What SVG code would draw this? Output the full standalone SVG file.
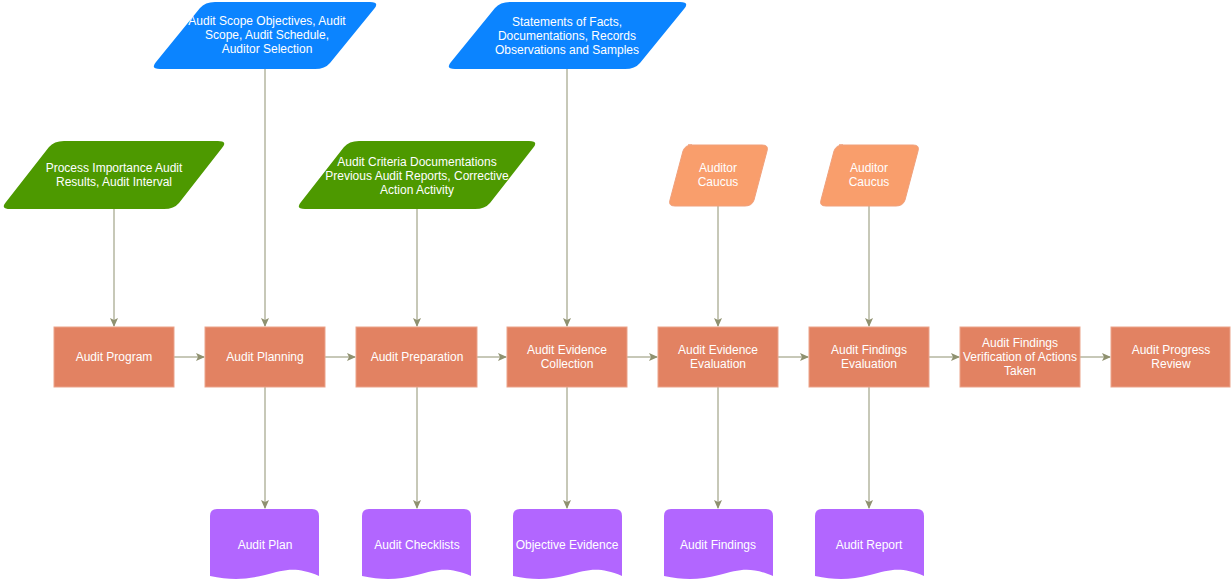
<svg xmlns="http://www.w3.org/2000/svg" width="1231" height="581" viewBox="0 0 1231 581">
<defs>
<marker id="ar" markerWidth="10" markerHeight="10" refX="8" refY="4" orient="auto" markerUnits="userSpaceOnUse"><path d="M0,0 L9,4 L0,8 L2,4 Z" fill="#8F9170"/></marker>
<style>
.p{fill:#E28262;stroke:#EBA38A;stroke-width:1}
.b{fill:#0B84FF}
.g{fill:#4D9900}
.o{fill:#F99E6C;stroke:#F0A07B}
.d{fill:#B266FF}
text{font-family:"Liberation Sans",Arial,sans-serif;font-size:12px;fill:#fff;text-anchor:middle}
.c line{stroke:#8F9170;stroke-width:1;marker-end:url(#ar)}
</style>
</defs>
<g class="c">
<line x1="174" y1="357" x2="204" y2="357"/>
<line x1="325" y1="357" x2="355" y2="357"/>
<line x1="477" y1="357" x2="506" y2="357"/>
<line x1="627" y1="357" x2="657" y2="357"/>
<line x1="778" y1="357" x2="808" y2="357"/>
<line x1="929" y1="357" x2="959" y2="357"/>
<line x1="1080" y1="357" x2="1110" y2="357"/>
<line x1="114" y1="209" x2="114" y2="326"/>
<line x1="265" y1="69" x2="265" y2="326"/>
<line x1="417" y1="209" x2="417" y2="326"/>
<line x1="567" y1="69" x2="567" y2="326"/>
<line x1="718" y1="206" x2="718" y2="326"/>
<line x1="869" y1="206" x2="869" y2="326"/>
<line x1="265" y1="387" x2="265" y2="508"/>
<line x1="417" y1="387" x2="417" y2="508"/>
<line x1="567" y1="387" x2="567" y2="508"/>
<line x1="718" y1="387" x2="718" y2="508"/>
<line x1="869" y1="387" x2="869" y2="508"/>
</g>
<g id="in1"><path class="b" d="M205,2 H370 Q380,2 374,9 L330,63 Q325,69 315,69 H160 Q150,69 156,62 L200,8 Q205,2 215,2 Z"/><text x="267" y="25">Audit Scope Objectives, Audit</text><text x="267" y="39">Scope, Audit Schedule,</text><text x="267" y="53">Auditor Selection</text></g>
<g id="in2"><path class="b" d="M500,2 H680 Q690,2 684,9 L640,63 Q635,69 625,69 H455 Q445,69 451,62 L495,8 Q500,2 510,2 Z"/><text x="567" y="26">Statements of Facts,</text><text x="567" y="40">Documentations, Records</text><text x="567" y="54">Observations and Samples</text></g>
<g id="in3"><path class="g" d="M55,141 H218 Q228,141 222,148 L179,203 Q174,209 164,209 H10 Q0,209 6,202 L49,147 Q54,141 64,141 Z"/><text x="114" y="172">Process Importance Audit</text><text x="114" y="186">Results, Audit Interval</text></g>
<g id="in4"><path class="g" d="M350,141 H529 Q539,141 533,148 L490,203 Q485,209 475,209 H305 Q295,209 301,202 L344,147 Q349,141 359,141 Z"/><text x="417" y="166">Audit Criteria Documentations</text><text x="417" y="180">Previous Audit Reports, Corrective</text><text x="417" y="194">Action Activity</text></g>
<g id="in5"><path class="o" d="M688,145 H762 Q769,145 767,151 L754,200 Q752,206 745,206 H675 Q668,206 670,200 L683,151 Q685,145 692,145 Z"/><text x="718" y="172">Auditor</text><text x="718" y="186">Caucus</text></g>
<g id="in6"><path class="o" d="M839,145 H913 Q920,145 918,151 L905,200 Q903,206 896,206 H826 Q819,206 821,200 L834,151 Q836,145 843,145 Z"/><text x="869" y="172">Auditor</text><text x="869" y="186">Caucus</text></g>
<g id="s1"><rect class="p" x="54" y="327" width="120" height="60"/><text x="114" y="361">Audit Program</text></g>
<g id="s2"><rect class="p" x="205" y="327" width="120" height="60"/><text x="265" y="361">Audit Planning</text></g>
<g id="s3"><rect class="p" x="356" y="327" width="121" height="60"/><text x="417" y="361">Audit Preparation</text></g>
<g id="s4"><rect class="p" x="507" y="327" width="120" height="60"/><text x="567" y="354">Audit Evidence</text><text x="567" y="368">Collection</text></g>
<g id="s5"><rect class="p" x="658" y="327" width="120" height="60"/><text x="718" y="354">Audit Evidence</text><text x="718" y="368">Evaluation</text></g>
<g id="s6"><rect class="p" x="809" y="327" width="120" height="60"/><text x="869" y="354">Audit Findings</text><text x="869" y="368">Evaluation</text></g>
<g id="s7"><rect class="p" x="960" y="327" width="120" height="60"/><text x="1020" y="347">Audit Findings</text><text x="1020" y="361">Verification of Actions</text><text x="1020" y="375">Taken</text></g>
<g id="s8"><rect class="p" x="1111" y="327" width="119" height="60"/><text x="1171" y="354">Audit Progress</text><text x="1171" y="368">Review</text></g>
<g id="o1"><path class="d" d="M210,516 Q210,509 217,509 H312 Q319,509 319,516 V576 C295,566 285,570 265,575 C245,580 230,580 210,576 Z"/><text x="265" y="549">Audit Plan</text></g>
<g id="o2"><path class="d" d="M362,516 Q362,509 369,509 H464 Q471,509 471,516 V576 C447,566 437,570 417,575 C397,580 382,580 362,576 Z"/><text x="417" y="549">Audit Checklists</text></g>
<g id="o3"><path class="d" d="M513,516 Q513,509 520,509 H615 Q622,509 622,516 V576 C598,566 588,570 568,575 C548,580 533,580 513,576 Z"/><text x="567" y="549">Objective Evidence</text></g>
<g id="o4"><path class="d" d="M664,516 Q664,509 671,509 H766 Q773,509 773,516 V576 C749,566 739,570 719,575 C699,580 684,580 664,576 Z"/><text x="718" y="549">Audit Findings</text></g>
<g id="o5"><path class="d" d="M815,516 Q815,509 822,509 H917 Q924,509 924,516 V576 C900,566 890,570 870,575 C850,580 835,580 815,576 Z"/><text x="869" y="549">Audit Report</text></g>
</svg>
